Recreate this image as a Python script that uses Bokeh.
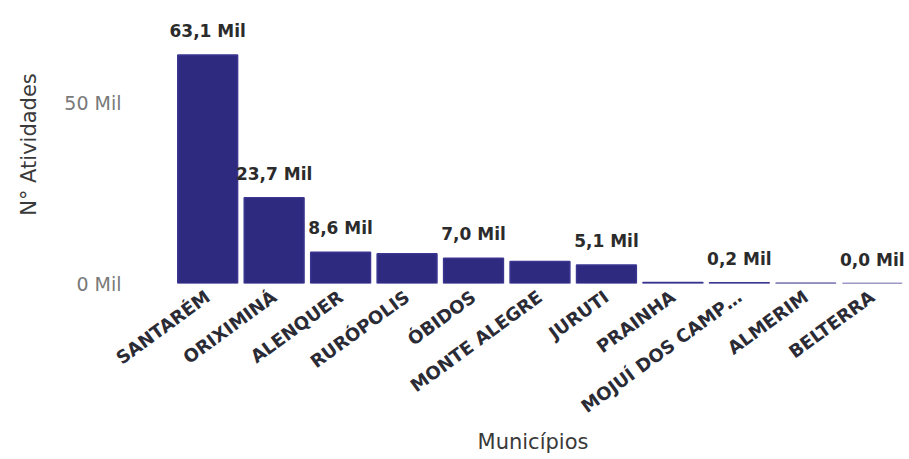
from bokeh.plotting import figure
from bokeh.models import Range1d, ColumnDataSource, FixedTicker, LabelSet
from bokeh.core.properties import value
from bokeh.embed import file_html
from bokeh.resources import INLINE

municipios = ["SANTARÉM", "ORIXIMINÁ", "ALENQUER", "RURÓPOLIS", "ÓBIDOS", "MONTE ALEGRE",
              "JURUTI", "PRAINHA", "MOJUÍ DOS CAMP…", "ALMERIM", "BELTERRA"]
atividades_mil = [63.1, 23.7, 8.6, 8.2, 7.0, 6.1, 5.1, 0.3, 0.2, 0.1, 0.0]
rotulo_visivel = [True, True, True, False, True, False, True, False, True, False, True]
y_ticks = [0, 50]
y_tick_labels = {0: "0 Mil", 50: "50 Mil"}

FONT = "DejaVu Sans"

pos = list(range(len(municipios)))
rotulos = [(f"{v:.1f}".replace(".", ",") + " Mil") if s else "" for v, s in zip(atividades_mil, rotulo_visivel)]
src = ColumnDataSource(dict(x=pos, y=atividades_mil, lab=rotulos))

p = figure(x_range=Range1d(-0.71, len(municipios) - 0.5), y_range=Range1d(0, 76.8), width=905, height=459,
           output_backend="svg", toolbar_location=None,
           min_border_left=160, min_border_right=0, min_border_top=5, min_border_bottom=176)
p.outline_line_color = None
p.grid.visible = False

p.vbar(x="x", top="y", width=0.9, source=src, fill_color="#2E2A80", line_color="#3A3590", line_width=1.5)
labels = LabelSet(x="x", y="y", text="lab", source=src, text_align="center", text_baseline="bottom",
                  y_offset=14, text_font=value(FONT), text_font_style="bold", text_font_size="17px",
                  text_color="#2B2B2B")
p.add_layout(labels)

p.yaxis.ticker = FixedTicker(ticks=y_ticks)
p.yaxis.major_label_overrides = y_tick_labels
p.yaxis.axis_line_color = None
p.yaxis.major_tick_line_color = None
p.yaxis.minor_tick_line_color = None
p.yaxis.major_label_standoff = 33
p.yaxis.major_label_text_font = FONT
p.yaxis.major_label_text_font_size = "19px"
p.yaxis.major_label_text_color = "#7A7A7A"
p.yaxis.axis_label = "N° Atividades"
p.yaxis.axis_label_text_font = FONT
p.yaxis.axis_label_text_font_style = "normal"
p.yaxis.axis_label_text_font_size = "21px"
p.yaxis.axis_label_text_color = "#3A3A3A"
p.yaxis.axis_label_standoff = 20

p.xaxis.ticker = FixedTicker(ticks=pos)
p.xaxis.major_label_overrides = {i: m for i, m in zip(pos, municipios)}
p.xaxis.axis_line_color = None
p.xaxis.major_tick_line_color = None
p.xaxis.minor_tick_line_color = None
p.xaxis.major_label_orientation = 0.63
p.xaxis.major_label_standoff = 5
p.xaxis.major_label_text_font = FONT
p.xaxis.major_label_text_font_style = "bold"
p.xaxis.major_label_text_font_size = "18px"
p.xaxis.major_label_text_color = "#2B2B35"
p.xaxis.axis_label = "Municípios"
p.xaxis.axis_label_text_font = FONT
p.xaxis.axis_label_text_font_style = "normal"
p.xaxis.axis_label_text_font_size = "21px"
p.xaxis.axis_label_text_color = "#3A3A3A"
p.xaxis.axis_label_standoff = 2

open("out.html", "w").write(file_html(p, INLINE))
